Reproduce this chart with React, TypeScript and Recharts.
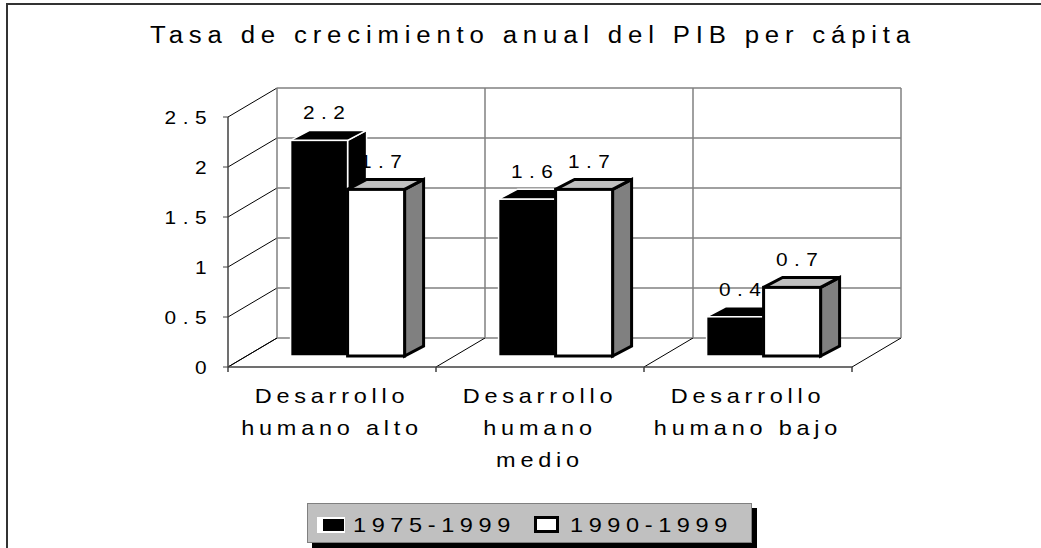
import { BarChart, Bar, XAxis, YAxis, CartesianGrid, Legend, LabelList } from 'recharts';

const categories = ['Desarrollo humano alto', 'Desarrollo humano medio', 'Desarrollo humano bajo'];
const categoryLines = [['Desarrollo', 'humano alto'], ['Desarrollo', 'humano', 'medio'], ['Desarrollo', 'humano bajo']];
const series1975 = [2.2, 1.6, 0.4];
const series1990 = [1.7, 1.7, 0.7];
const seriesNames = ['1975-1999', '1990-1999'];
const yTicks = [0, 0.5, 1, 1.5, 2, 2.5];
const boundaryTicks = [0, 1, 2, 3];

const data = categories.map((name, i) => ({ name, a: series1975[i], b: series1990[i], slot: i + 0.5 }));

const FONT = "'Liberation Sans', Arial, sans-serif";
// the original text is a bit wide, stretch it horizontally
const SX = 1.12;
// 3d look: back wall offset, bar offset from the front plane, bar depth
const DX = 49;
const DY = 29;
const BX = 16;
const BY = 11;
const DEPTH_X = 19;
const DEPTH_Y = 10;
const K = 0.98;

function SText({ x, y, size, ls, anchor = 'middle', dy, children }: any) {
  return (
    <text
      transform={`translate(${x},${y}) scale(${SX},1)`}
      dy={dy}
      textAnchor={anchor}
      fontSize={size}
      letterSpacing={ls}
      fontFamily={FONT}
      fill="#000"
    >
      {children}
    </text>
  );
}

function boxGeom(x: number, y: number, width: number, height: number) {
  const base = y + height - BY;
  const h = height * K;
  return { fx: x + BX, fy: base - h, w: width, h, base };
}

function Box3D(props: any) {
  const { x, y, width, height, dark } = props;
  if (!width || height == null) return null;
  const { fx, fy, w, base } = boxGeom(x, y, width, height);
  const top = `${fx},${fy} ${fx + w},${fy} ${fx + w + DEPTH_X},${fy - DEPTH_Y} ${fx + DEPTH_X},${fy - DEPTH_Y}`;
  const side = `${fx + w},${fy} ${fx + w + DEPTH_X},${fy - DEPTH_Y} ${fx + w + DEPTH_X},${base - DEPTH_Y} ${fx + w},${base}`;
  if (dark) {
    return (
      <g>
        <polygon points={side} fill="#000" stroke="#fff" strokeWidth={1.5} />
        <polygon points={top} fill="#000" stroke="#fff" strokeWidth={1.5} />
        <rect x={fx} y={fy} width={w} height={base - fy} fill="#000" stroke="#fff" strokeWidth={1.5} />
      </g>
    );
  }
  return (
    <g>
      <polygon points={side} fill="#808080" stroke="#000" strokeWidth={3} />
      <polygon points={top} fill="#c0c0c0" stroke="#000" strokeWidth={3} />
      <rect x={fx} y={fy} width={w} height={base - fy} fill="#fff" stroke="#000" strokeWidth={3} />
    </g>
  );
}

const renderValueLabel = (p: any) => {
  const vb = p.viewBox || {};
  const x = p.x ?? vb.x;
  const y = p.y ?? vb.y;
  const width = p.width ?? vb.width;
  const height = p.height ?? vb.height;
  const { fx, fy, w } = boxGeom(x, y, width, height);
  return (
    <SText x={fx + w / 2 + 8} y={fy - 21} size={18.6} ls={5.8}>
      {p.value}
    </SText>
  );
};

const renderHLine = (p: any) => {
  const { x1, y1, x2 } = p;
  return (
    <g key={`h-${y1}`}>
      <line x1={x1} y1={y1} x2={x1 + DX} y2={y1 - DY} stroke="#000" strokeWidth={1} />
      <line x1={x1 + DX} y1={y1 - DY} x2={x2 + DX} y2={y1 - DY} stroke="#808080" strokeWidth={1.5} />
    </g>
  );
};

const renderVLine = (p: any) => {
  const { x1, y1, y2 } = p;
  return (
    <g key={`v-${x1}`}>
      <line x1={x1} y1={y2} x2={x1} y2={y2 + 5} stroke="#404040" strokeWidth={1.5} />
      <line x1={x1} y1={y2} x2={x1 + DX} y2={y2 - DY} stroke="#000" strokeWidth={1} />
      <line x1={x1 + DX} y1={y2 - DY} x2={x1 + DX} y2={y1 - DY} stroke="#808080" strokeWidth={1.5} />
    </g>
  );
};

const renderYTick = (p: any) => (
  <SText x={p.x} y={p.y} dy="0.36em" anchor="end" size={18.6} ls={5.8}>
    {p.payload.value}
  </SText>
);

const renderXTick = (p: any) => {
  const idx = categories.indexOf(p.payload.value);
  const lines = categoryLines[idx] || [p.payload.value];
  return (
    <g>
      {lines.map((line, i) => (
        <SText key={i} x={p.x} y={p.y + 36 + i * 32} size={21} ls={4.25}>
          {line}
        </SText>
      ))}
    </g>
  );
};

const legendText = {
  position: 'absolute' as const,
  top: 10,
  transform: `scaleX(${SX})`,
  transformOrigin: 'left',
  whiteSpace: 'nowrap' as const,
};

const renderLegend = () => (
  <div
    style={{
      position: 'relative',
      marginTop: 1,
      width: 445,
      height: 40,
      boxSizing: 'border-box',
      background: '#c0c0c0',
      border: '1px solid #808080',
      boxShadow: '5px 5px 0 #000',
      fontFamily: FONT,
      fontSize: 21,
      letterSpacing: 5,
      lineHeight: 1,
      color: '#000',
    }}
  >
    <div style={{ position: 'absolute', left: 9, top: 13, width: 28, height: 16, background: '#fff' }}>
      <div style={{ position: 'absolute', left: 6, top: 2, width: 21, height: 12, background: '#000' }} />
    </div>
    <span style={{ ...legendText, left: 45 }}>{seriesNames[0]}</span>
    <div style={{ position: 'absolute', left: 226, top: 12, width: 25, height: 17, boxSizing: 'border-box', background: '#fff', border: '3px solid #000' }} />
    <span style={{ ...legendText, left: 262 }}>{seriesNames[1]}</span>
  </div>
);

export default function App() {
  return (
    <div style={{ position: 'absolute', left: 0, top: 0, width: 1041, height: 548, background: '#fff', overflow: 'hidden' }}>
      <div style={{ position: 'absolute', left: 6, top: 3, width: 1041, height: 548, borderLeft: '2px solid #333', borderTop: '2px solid #333' }} />
      <div
        style={{
          position: 'absolute',
          left: 0,
          top: 24,
          width: 1066,
          textAlign: 'center',
          fontFamily: FONT,
          fontSize: 23,
          letterSpacing: 5.2,
          lineHeight: 1,
          color: '#000',
          transform: `scaleX(${SX})`,
          transformOrigin: '533px 0',
          whiteSpace: 'nowrap',
        }}
      >
        Tasa de crecimiento anual del PIB per cápita
      </div>
      <BarChart
        width={1041}
        height={548}
        data={data}
        margin={{ top: 117, right: 189, bottom: 0, left: 168 }}
        barCategoryGap="22.4%"
        barGap={0}
      >
        <CartesianGrid xAxisId="grid" horizontal={renderHLine} vertical={renderVLine} />
        <XAxis
          dataKey="name"
          height={135}
          tickLine={false}
          tickSize={0}
          tickMargin={0}
          interval={0}
          axisLine={{ stroke: '#404040', strokeWidth: 1.5 }}
          tick={renderXTick}
        />
        <XAxis xAxisId="grid" type="number" dataKey="slot" domain={[0, 3]} ticks={boundaryTicks} hide />
        <YAxis
          domain={[0, 2.5]}
          ticks={yTicks}
          interval={0}
          width={60}
          tickSize={5}
          tickMargin={10}
          axisLine={{ stroke: '#404040', strokeWidth: 1.5 }}
          tickLine={{ stroke: '#404040' }}
          tick={renderYTick}
        />
        <Legend verticalAlign="bottom" height={46} wrapperStyle={{ left: 307, width: 452, bottom: 0 }} content={renderLegend} />
        <Bar dataKey="a" name={seriesNames[0]} fill="#000" isAnimationActive={false} shape={(p: any) => <Box3D {...p} dark />}>
          <LabelList dataKey="a" content={renderValueLabel} />
        </Bar>
        <Bar dataKey="b" name={seriesNames[1]} fill="#fff" isAnimationActive={false} shape={(p: any) => <Box3D {...p} />}>
          <LabelList dataKey="b" content={renderValueLabel} />
        </Bar>
      </BarChart>
    </div>
  );
}
